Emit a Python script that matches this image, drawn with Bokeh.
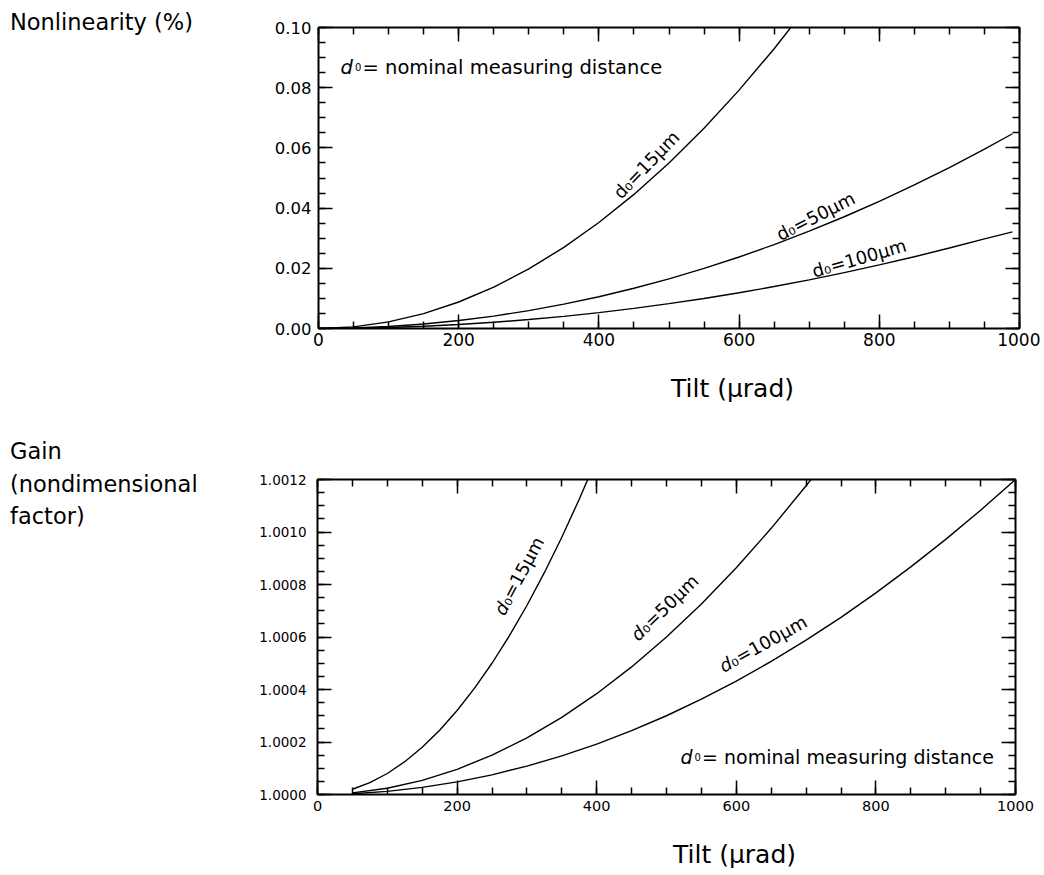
from bokeh.plotting import figure
from bokeh.models import Range1d, LinearAxis, FixedTicker, PrintfTickFormatter, Label, Div
from bokeh.layouts import column, row
from bokeh.embed import file_html
from bokeh.resources import INLINE
import math

FONT = "DejaVu Sans"

# ---------------- data ----------------
# Nonlinearity (%) vs tilt (urad)
tilt_nl_15 = [0, 50, 100, 150, 200, 250, 300, 350, 400, 450, 500, 550, 600, 650, 700]
nl_15 = [0.0, 0.00055, 0.0022, 0.00495, 0.0088, 0.01375, 0.0198, 0.02695, 0.0352,
         0.04455, 0.055, 0.06655, 0.0792, 0.09295, 0.1078]

tilt_nl = [0, 50, 100, 150, 200, 250, 300, 350, 400, 450, 500, 550, 600, 650, 700,
           750, 800, 850, 900, 950, 990]
nl_50 = [0.0, 0.000165, 0.00066, 0.001485, 0.00264, 0.004125, 0.00594, 0.008085, 0.01056,
         0.013365, 0.0165, 0.019965, 0.02376, 0.027885, 0.03234, 0.037125, 0.04224,
         0.047685, 0.05346, 0.059565, 0.0647]
nl_100 = [0.0, 0.00008, 0.00033, 0.00074, 0.00132, 0.00206, 0.00297, 0.00404, 0.00528,
          0.00668, 0.00825, 0.00998, 0.01188, 0.01394, 0.01617, 0.01856, 0.02112,
          0.02384, 0.02673, 0.02978, 0.0321]

# Gain (nondimensional factor) vs tilt (urad)
tilt_g_15 = [50, 75, 100, 125, 150, 175, 200, 225, 250, 275, 300, 325, 350, 375, 400]
gain_15 = [1.000020, 1.000045, 1.000080, 1.000125, 1.000180, 1.000245, 1.000320,
           1.000405, 1.000500, 1.000605, 1.000720, 1.000845, 1.000980, 1.001125, 1.001280]

tilt_g_50 = [50, 100, 150, 200, 250, 300, 350, 400, 450, 500, 550, 600, 650, 700, 750]
gain_50 = [1.000006, 1.000024, 1.000054, 1.000096, 1.000150, 1.000216, 1.000294,
           1.000384, 1.000486, 1.000600, 1.000726, 1.000864, 1.001014, 1.001176, 1.001350]

tilt_g_100 = [50, 100, 150, 200, 250, 300, 350, 400, 450, 500, 550, 600, 650, 700, 750,
              800, 850, 900, 950, 1000]
gain_100 = [1.000003, 1.000012, 1.000027, 1.000048, 1.000075, 1.000108, 1.000147,
            1.000192, 1.000243, 1.000300, 1.000363, 1.000432, 1.000507, 1.000588,
            1.000675, 1.000768, 1.000867, 1.000972, 1.001083, 1.001200]

# ticks
x_major = [0, 200, 400, 600, 800, 1000]
x_minor = list(range(0, 1001, 50))
nl_major = [0.0, 0.02, 0.04, 0.06, 0.08, 0.10]
nl_minor = [round(i * 0.005, 4) for i in range(21)]
g_major = [1.0, 1.0002, 1.0004, 1.0006, 1.0008, 1.0010, 1.0012]
g_minor = [round(1.0 + i * 0.00005, 6) for i in range(25)]

# ---------------- geometry (page pixels) ----------------
PAGE_W = 1040
SIDE_W = 250                      # width of the left text column
TOP_Y0, TOP_CH = 0, 360           # top plot canvas
TILT1_H = 68                      # strip holding the first x-axis title
BOT_Y0, BOT_CH = 428, 402         # bottom plot canvas
TILT2_H = 42
TOP_L, TOP_T, TOP_W, TOP_H = 318, 27, 701, 301
BOT_L, BOT_T, BOT_W, BOT_H = 317, 479, 698, 315


def top_pt(px, py):
    return ((px - TOP_L) / TOP_W * 1000.0, (TOP_T + TOP_H - py) / TOP_H * 0.1)


def bot_pt(px, py):
    return ((px - BOT_L) / BOT_W * 1000.0, 1.0 + (BOT_T + BOT_H - py) / BOT_H * 0.0012)


def style_axis(ax, ticks, minor, fmt, size, standoff, labels=True):
    ax.ticker = FixedTicker(ticks=ticks, minor_ticks=minor)
    ax.formatter = PrintfTickFormatter(format=fmt)
    ax.axis_line_width = 2
    ax.axis_line_color = "black"
    ax.major_tick_in = 14
    ax.major_tick_out = 0
    ax.minor_tick_in = 7
    ax.minor_tick_out = 0
    ax.major_tick_line_width = 1.5
    ax.minor_tick_line_width = 1.5
    ax.major_tick_line_color = "black"
    ax.minor_tick_line_color = "black"
    ax.major_label_text_font = FONT
    ax.major_label_text_color = "black"
    if labels:
        ax.major_label_text_font_size = size
        ax.major_label_standoff = standoff
    else:
        ax.major_label_text_font_size = "1px"
        ax.major_label_text_alpha = 0
        ax.major_label_standoff = 0


def label(p, x, y, text, size, italic=False, angle=0, x_off=0, y_off=0):
    p.add_layout(Label(x=x, y=y, text=text,
                       text_font=FONT, text_font_size=size,
                       text_font_style="italic" if italic else "normal",
                       angle=angle, angle_units="deg", x_offset=x_off, y_offset=y_off,
                       text_baseline="alphabetic", text_align="left",
                       text_color="black"))


def make_fig(frame_w, frame_h, left, right, top, bottom, yr):
    p = figure(frame_width=frame_w, frame_height=frame_h,
               x_range=Range1d(0, 1000), y_range=yr,
               output_backend="svg", toolbar_location=None,
               min_border_left=left, min_border_right=right,
               min_border_top=top, min_border_bottom=bottom)
    p.grid.visible = False
    p.outline_line_color = None
    p.background_fill_color = "white"
    p.border_fill_color = "white"
    return p


def text_div(html_text, w, h, pad_top, pad_left, size, lh):
    style = (f"margin:0;padding:{pad_top}px 0 0 {pad_left}px;font-family:'DejaVu Sans';"
             f"font-size:{size}px;line-height:{lh}px;color:#000;white-space:nowrap;")
    return Div(text=f'<div style="{style}">{html_text}</div>', width=w, height=h,
               styles={"margin": "0", "padding": "0"})


# ---------------- top: nonlinearity ----------------
p1 = make_fig(TOP_W, TOP_H, TOP_L - SIDE_W, PAGE_W - TOP_L - TOP_W, TOP_T - TOP_Y0,
              TOP_CH - (TOP_T - TOP_Y0) - TOP_H, Range1d(0, 0.1))
style_axis(p1.xaxis[0], x_major, x_minor, "%d", "17px", 4)
style_axis(p1.yaxis[0], nl_major, nl_minor, "%.2f", "16.5px", 7)
ax_t = LinearAxis()
style_axis(ax_t, x_major, x_minor, "%d", "1px", 0, labels=False)
p1.add_layout(ax_t, "above")
ax_r = LinearAxis()
style_axis(ax_r, nl_major, nl_minor, "%.2f", "1px", 0, labels=False)
p1.add_layout(ax_r, "right")

for xs, ys in [(tilt_nl_15, nl_15), (tilt_nl, nl_50), (tilt_nl, nl_100)]:
    p1.line(xs, ys, line_color="black", line_width=1.4)

x, y = top_pt(340, 66.7)
label(p1, x, y, "d", "19.5px", italic=True)
label(p1, x, y, "0", "10px", x_off=14.5)
label(p1, x, y, "= nominal measuring distance", "19.5px", x_off=22)
x, y = top_pt(616, 195)
label(p1, x, y, "d\u2080=15\u00b5m", "18px", angle=46)
x, y = top_pt(777, 235)
label(p1, x, y, "d\u2080=50\u00b5m", "18px", angle=27)
x, y = top_pt(812, 271)
label(p1, x, y, "d\u2080=100\u00b5m", "18px", angle=16)

# ---------------- bottom: gain ----------------
p2 = make_fig(BOT_W, BOT_H, BOT_L - SIDE_W, PAGE_W - BOT_L - BOT_W, BOT_T - BOT_Y0,
              BOT_CH - (BOT_T - BOT_Y0) - BOT_H, Range1d(1.0, 1.0012))
style_axis(p2.xaxis[0], x_major, x_minor, "%d", "14.5px", 6)
style_axis(p2.yaxis[0], g_major, g_minor, "%.4f", "13.5px", 11)
ax_t2 = LinearAxis()
style_axis(ax_t2, x_major, x_minor, "%d", "1px", 0, labels=False)
p2.add_layout(ax_t2, "above")
ax_r2 = LinearAxis()
style_axis(ax_r2, g_major, g_minor, "%.4f", "1px", 0, labels=False)
p2.add_layout(ax_r2, "right")

for xs, ys in [(tilt_g_15, gain_15), (tilt_g_50, gain_50), (tilt_g_100, gain_100)]:
    p2.line(xs, ys, line_color="black", line_width=1.4)

x, y = bot_pt(680, 756.7)
label(p2, x, y, "d", "19px", italic=True)
label(p2, x, y, "0", "10px", x_off=14)
label(p2, x, y, "= nominal measuring distance", "19px", x_off=21.5)


def rot_label(p, px, py, rest, angle):
    x, y = bot_pt(px, py)
    label(p, x, y, "d", "18px", italic=True, angle=angle)
    w = 0.635 * 18
    a = math.radians(angle)
    label(p, x, y, rest, "18px", angle=angle, x_off=w * math.cos(a), y_off=w * math.sin(a))


rot_label(p2, 498.3, 613.3, "\u2080=15\u00b5m", 62)
rot_label(p2, 633.3, 636.7, "\u2080=50\u00b5m", 44)
rot_label(p2, 720, 666.7, "\u2080=100\u00b5m", 29)

# ---------------- texts outside the plot frames ----------------
nl_title = text_div("Nonlinearity (%)", SIDE_W, TOP_CH, 6, 10, 22.5, 32.6)
gain_title = text_div("Gain<br>(nondimensional<br>factor)", SIDE_W, BOT_CH, 7, 10, 22.5, 32.6)
tilt1 = text_div("Tilt (\u00b5rad)", PAGE_W, TILT1_H, 14, 671, 25, 30)
tilt2 = text_div("Tilt (\u00b5rad)", PAGE_W, TILT2_H, 10, 673, 25, 30)

layout = column(row(nl_title, p1, spacing=0), tilt1,
                row(gain_title, p2, spacing=0), tilt2, spacing=0)
open("out.html", "w").write(file_html(layout, INLINE))
